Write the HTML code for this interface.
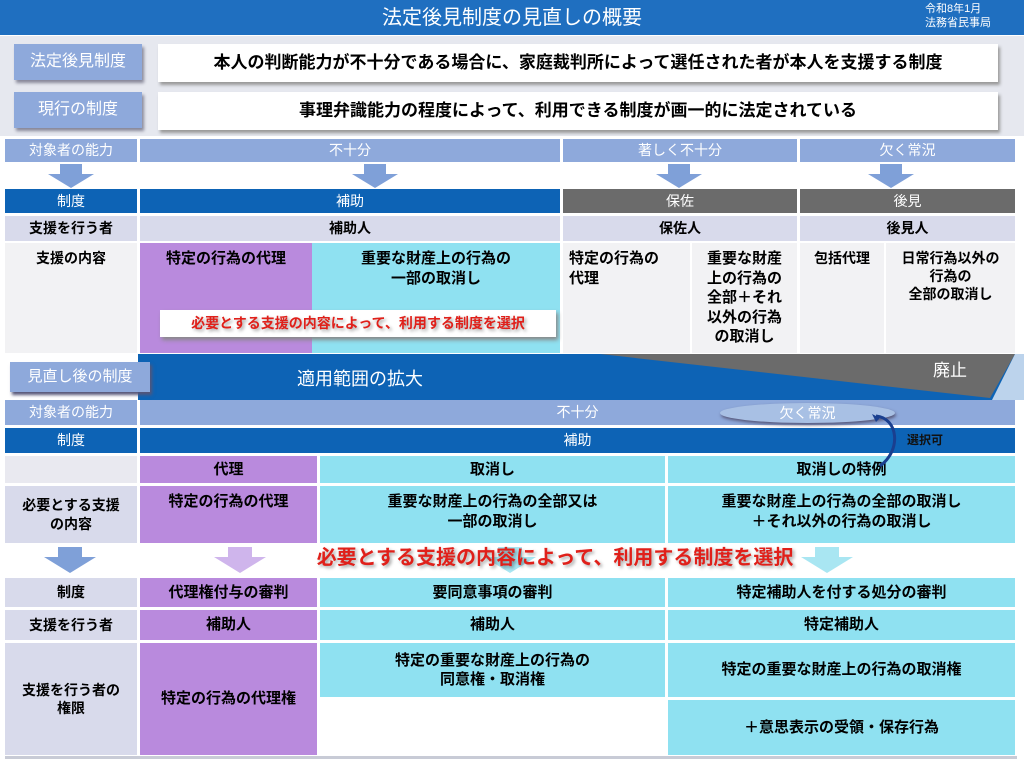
<!DOCTYPE html>
<html><head><meta charset="utf-8"><style>
*{margin:0;padding:0;box-sizing:border-box}
body{width:1024px;height:768px;position:relative;background:#fff;font-family:"Liberation Sans","Noto Sans CJK JP",sans-serif;overflow:hidden;font-weight:bold}
.a{position:absolute;display:flex;align-items:center;justify-content:center;text-align:center;line-height:1.3}
.t{align-items:flex-start;padding-top:6px}
.w{color:#fff;font-weight:normal}
.lb{background:#8ea9db}
.db{background:#0d63b5}
.gr{background:#6b6b6b}
.lv{background:#d8daeb}
.pu{background:#b98add}
.cy{background:#8fe1f1}
.lg{background:#f2f2f4}
.red{color:#e0201a;text-shadow:2px 2px 3px rgba(0,0,0,.35)}
</style></head><body>
<div class="a w" style="left:0;top:0;width:1024px;height:35px;background:#1f6fc0;font-size:20px">法定後見制度の見直しの概要</div>
<div style="position:absolute;left:925px;top:2px;color:#fff;font-size:11px;line-height:14px;font-weight:normal">令和8年1月<br>法務省民事局</div>
<div style="position:absolute;left:0;top:36px;width:1024px;height:100px;background:#e6e8ef"></div>
<div class="a w lb" style="left:14px;top:44px;width:128px;height:36px;font-size:16px;box-shadow:2px 3px 3px #889">法定後見制度</div>
<div class="a" style="left:158px;top:44px;width:840px;height:38px;background:#fff;font-size:17px;box-shadow:2px 3px 3px #999">本人の判断能力が不十分である場合に、家庭裁判所によって選任された者が本人を支援する制度</div>
<div class="a w lb" style="left:14px;top:92px;width:128px;height:36px;font-size:16px;box-shadow:2px 3px 3px #889">現行の制度</div>
<div class="a" style="left:158px;top:92px;width:840px;height:38px;background:#fff;font-size:17px;box-shadow:2px 3px 3px #999">事理弁識能力の程度によって、利用できる制度が画一的に法定されている</div>

<div class="a w lb" style="left:5px;top:139px;width:132px;height:23px;font-size:14px">対象者の能力</div>
<div class="a w lb" style="left:140px;top:139px;width:420px;height:23px;font-size:14px">不十分</div>
<div class="a w lb" style="left:563px;top:139px;width:234px;height:23px;font-size:14px">著しく不十分</div>
<div class="a w lb" style="left:800px;top:139px;width:215px;height:23px;font-size:14px">欠く常況</div>
<svg style="position:absolute;left:0;top:162px" width="1024" height="28">
<g fill="#7fa0d8"><path d="M60 2h22v10h12l-23 14-23-14h12z"/><path d="M364 2h22v10h12l-23 14-23-14h12z"/><path d="M668 2h22v10h12l-23 14-23-14h12z"/><path d="M880 2h22v10h12l-23 14-23-14h12z"/></g></svg>
<div class="a w db" style="left:5px;top:189px;width:132px;height:24px;font-size:14px">制度</div>
<div class="a w db" style="left:140px;top:189px;width:420px;height:24px;font-size:14px">補助</div>
<div class="a w gr" style="left:563px;top:189px;width:234px;height:24px;font-size:14px">保佐</div>
<div class="a w gr" style="left:800px;top:189px;width:215px;height:24px;font-size:14px">後見</div>
<div class="a lv" style="left:5px;top:216px;width:132px;height:25px;font-size:14px">支援を行う者</div>
<div class="a lv" style="left:140px;top:216px;width:420px;height:25px;font-size:14px">補助人</div>
<div class="a lv" style="left:563px;top:216px;width:234px;height:25px;font-size:14px">保佐人</div>
<div class="a lv" style="left:800px;top:216px;width:215px;height:25px;font-size:14px">後見人</div>
<div class="a t lg" style="left:5px;top:243px;width:132px;height:110px;font-size:14px">支援の内容</div>
<div class="a t pu" style="left:140px;top:243px;width:172px;height:110px;font-size:15px">特定の行為の代理</div>
<div class="a t cy" style="left:312px;top:243px;width:248px;height:110px;font-size:15px">重要な財産上の行為の<br>一部の取消し</div>
<div class="a t lg" style="left:563px;top:243px;width:127px;height:110px;font-size:15px;justify-content:flex-start;text-align:left;padding-left:6px">特定の行為の<br>代理</div>
<div class="a t lg" style="left:692px;top:243px;width:105px;height:110px;font-size:15px">重要な財産<br>上の行為の<br>全部＋それ<br>以外の行為<br>の取消し</div>
<div class="a t lg" style="left:800px;top:243px;width:84px;height:110px;font-size:14px">包括代理</div>
<div class="a t lg" style="left:886px;top:243px;width:129px;height:110px;font-size:14px">日常行為以外の<br>行為の<br>全部の取消し</div>
<div class="a red" style="left:160px;top:310px;width:396px;height:27px;background:#fff;font-size:14px;box-shadow:2px 3px 4px #888">必要とする支援の内容によって、利用する制度を選択</div>

<svg style="position:absolute;left:0;top:354px" width="1024" height="46">
<polygon points="138,0 1015,0 1015,46 138,46" fill="#0d63b5"/>
<polygon points="600,0 1015,0 990,44" fill="#6b6b6b"/>
<polygon points="1015,0 1024,0 1024,46 992,46" fill="#bcd3ec"/>
</svg>
<div class="a w lb" style="left:10px;top:362px;width:140px;height:30px;font-size:15px;box-shadow:2px 3px 3px #557">見直し後の制度</div>
<div class="a w" style="left:280px;top:366px;width:160px;height:28px;font-size:18px">適用範囲の拡大</div>
<div class="a w" style="left:920px;top:358px;width:60px;height:26px;font-size:17px">廃止</div>

<div class="a w lb" style="left:5px;top:400px;width:132px;height:25px;font-size:14px">対象者の能力</div>
<div class="a w lb" style="left:140px;top:400px;width:875px;height:25px;font-size:14px">不十分</div>
<div class="a w" style="left:720px;top:403px;width:175px;height:20px;border-radius:50%;background:#a8c0e4;box-shadow:1px 2px 3px #557;font-size:14px">欠く常況</div>
<div class="a w db" style="left:5px;top:428px;width:132px;height:25px;font-size:14px">制度</div>
<div class="a w db" style="left:140px;top:428px;width:875px;height:25px;font-size:14px">補助</div>
<div class="a" style="left:900px;top:432px;width:50px;height:18px;font-size:12px;color:#111">選択可</div>
<div class="a" style="left:5px;top:456px;width:132px;height:27px;background:#e9e9f0"></div>
<div class="a pu" style="left:140px;top:456px;width:177px;height:27px;font-size:15px">代理</div>
<div class="a cy" style="left:320px;top:456px;width:345px;height:27px;font-size:15px">取消し</div>
<div class="a cy" style="left:668px;top:456px;width:347px;height:27px;font-size:15px">取消しの特例</div>
<svg style="position:absolute;left:860px;top:410px" width="50" height="65"><path d="M16 6 C38 8 42 40 20 56" fill="none" stroke="#1a3f8f" stroke-width="3"/><path d="M20 8 L12 4 L16 12 Z" fill="#1a3f8f"/></svg>
<div class="a lv" style="left:5px;top:486px;width:132px;height:57px;font-size:14px">必要とする支援<br>の内容</div>
<div class="a t pu" style="left:140px;top:486px;width:177px;height:57px;font-size:15px">特定の行為の代理</div>
<div class="a t cy" style="left:320px;top:486px;width:345px;height:57px;font-size:15px">重要な財産上の行為の全部又は<br>一部の取消し</div>
<div class="a t cy" style="left:668px;top:486px;width:347px;height:57px;font-size:15px">重要な財産上の行為の全部の取消し<br>＋それ以外の行為の取消し</div>
<svg style="position:absolute;left:0;top:545px" width="1024" height="32">
<path d="M58 2h24v10h14l-26 16-26-16h14z" fill="#7fa0d8"/>
<path d="M228 2h24v10h14l-26 16-26-16h14z" fill="#cfb5ec"/>
<path d="M498 2h24v10h14l-26 16-26-16h14z" fill="#a9e6f2"/>
<path d="M815 2h24v10h14l-26 16-26-16h14z" fill="#a9e6f2"/>
</svg>
<div class="a red" style="left:290px;top:545px;width:530px;height:26px;font-size:20px">必要とする支援の内容によって、利用する制度を選択</div>
<div class="a lv" style="left:5px;top:578px;width:132px;height:29px;font-size:14px">制度</div>
<div class="a pu" style="left:140px;top:578px;width:177px;height:29px;font-size:15px">代理権付与の審判</div>
<div class="a cy" style="left:320px;top:578px;width:345px;height:29px;font-size:15px">要同意事項の審判</div>
<div class="a cy" style="left:668px;top:578px;width:347px;height:29px;font-size:15px">特定補助人を付する処分の審判</div>
<div class="a lv" style="left:5px;top:610px;width:132px;height:30px;font-size:14px">支援を行う者</div>
<div class="a pu" style="left:140px;top:610px;width:177px;height:30px;font-size:15px">補助人</div>
<div class="a cy" style="left:320px;top:610px;width:345px;height:30px;font-size:15px">補助人</div>
<div class="a cy" style="left:668px;top:610px;width:347px;height:30px;font-size:15px">特定補助人</div>
<div class="a lv" style="left:5px;top:643px;width:132px;height:112px;font-size:14px">支援を行う者の<br>権限</div>
<div class="a pu" style="left:140px;top:643px;width:177px;height:112px;font-size:15px">特定の行為の代理権</div>
<div class="a cy" style="left:320px;top:643px;width:345px;height:54px;font-size:15px">特定の重要な財産上の行為の<br>同意権・取消権</div>
<div class="a cy" style="left:668px;top:643px;width:347px;height:54px;font-size:15px">特定の重要な財産上の行為の取消権</div>
<div class="a cy" style="left:668px;top:700px;width:347px;height:55px;font-size:15px">＋意思表示の受領・保存行為</div>
<div style="position:absolute;left:5px;top:756px;width:1012px;height:3px;background:#c8cbd6"></div>
</body></html>
